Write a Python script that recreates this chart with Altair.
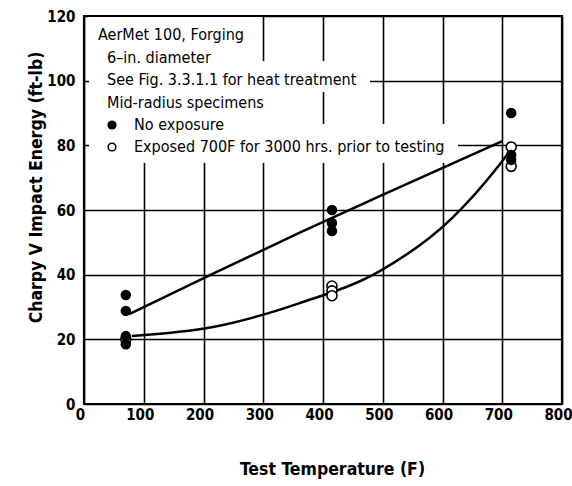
import altair as alt
import pandas as pd

# ---- data ----
temp_none = [70, 70, 70, 70, 415, 415, 415, 715, 715, 715]
energy_none = [33.7, 28.8, 21.0, 18.5, 60.0, 56.0, 53.5, 90.0, 77.0, 75.5]
temp_exp = [70, 415, 415, 415, 715, 715]
energy_exp = [20.0, 36.5, 35.0, 33.5, 79.5, 73.5]

fit_none_t = [76, 216, 361, 495, 700]
fit_none_e = [27.8, 40.3, 53.0, 64.3, 81.3]
fit_exp_t = [80, 216, 361, 495, 616, 691, 713]
fit_exp_e = [21.0, 23.8, 31.2, 41.1, 57.5, 73.0, 78.3]

x_ticks = [0, 100, 200, 300, 400, 500, 600, 700, 800]
y_ticks = [0, 20, 40, 60, 80, 100, 120]

note_lines = ["AerMet 100, Forging", "6–in. diameter",
              "See Fig. 3.3.1.1 for heat treatment", "Mid-radius specimens"]
legend_labels = ["No exposure", "Exposed 700F for 3000 hrs. prior to testing"]

# ---- layout / style ----
LEFT, TOP, W, H = 84, 16, 478, 388
FONT = "DejaVu Sans Condensed, sans-serif"

xs = alt.Scale(domain=[0, 800], nice=False)
ys = alt.Scale(domain=[0, 120], nice=False)

xaxis = alt.Axis(values=x_ticks, title="Test Temperature (F)", grid=True,
                 gridColor="black", gridWidth=1.6, gridOpacity=1, domain=False,
                 ticks=False, labelFont=FONT, labelFontSize=15, labelFontWeight="bold",
                 labelColor="black", labelPadding=3, labelFlush=False, labelOverlap=False,
                 labelOffset=-4,
                 titleFont=FONT, titleFontSize=17.5, titleFontWeight="bold", titleColor="black",
                 titleX=248, titleY=65, titleBaseline="middle", titleAlign="center")
yaxis = alt.Axis(values=y_ticks, title="Charpy V Impact Energy (ft-lb)", grid=True,
                 gridColor="black", gridWidth=1.6, gridOpacity=1, domain=False,
                 ticks=False, labelFont=FONT, labelFontSize=15, labelFontWeight="bold",
                 labelColor="black", labelPadding=9, labelFlush=False, labelOverlap=False,
                 titleFont=FONT, titleFontSize=17.5, titleFontWeight="bold", titleColor="black",
                 titleX=36 - LEFT, titleY=187 - TOP, titleBaseline="middle", titleAlign="center",
                 titleAngle=270)

one = pd.DataFrame({"a": [0]})

# white boxes behind the annotation block (interrupt the grid)
boxes = [(89, 262, 17, 163), (262, 370, 61, 92), (262, 282, 92, 163), (262, 458, 124, 163)]
box_layers = [
    alt.Chart(one).mark_rect(fill="white").encode(
        x=alt.value(x0 - LEFT), x2=alt.value(x1 - LEFT),
        y=alt.value(y0 - TOP), y2=alt.value(y1 - TOP))
    for (x0, x1, y0, y1) in boxes
]

df_none = pd.DataFrame({"t": temp_none, "e": energy_none})
df_exp = pd.DataFrame({"t": temp_exp, "e": energy_exp})
fit_none = pd.DataFrame({"t": fit_none_t, "e": fit_none_e})
fit_exp = pd.DataFrame({"t": fit_exp_t, "e": fit_exp_e})

axes_layer = alt.Chart(df_none).mark_point(opacity=0).encode(
    x=alt.X("t:Q", scale=xs, axis=xaxis),
    y=alt.Y("e:Q", scale=ys, axis=yaxis),
)

line_none = alt.Chart(fit_none).mark_line(color="black", strokeWidth=2.5, interpolate="monotone").encode(
    x=alt.X("t:Q", scale=xs), y=alt.Y("e:Q", scale=ys))
line_exp = alt.Chart(fit_exp).mark_line(color="black", strokeWidth=2.5, interpolate="monotone").encode(
    x=alt.X("t:Q", scale=xs), y=alt.Y("e:Q", scale=ys))

pts_exp = alt.Chart(df_exp).mark_point(shape="circle", size=100, fill="white", filled=True,
                                       stroke="black", strokeWidth=1.6, opacity=1).encode(
    x=alt.X("t:Q", scale=xs), y=alt.Y("e:Q", scale=ys))
pts_none = alt.Chart(df_none).mark_point(shape="circle", size=110, filled=True,
                                         color="black", opacity=1).encode(
    x=alt.X("t:Q", scale=xs), y=alt.Y("e:Q", scale=ys))

# annotation text
note_pos = [(98, 35), (107, 58), (107, 80), (107, 103)]
text_layers = []
for txt, (px, py) in zip(note_lines, note_pos):
    text_layers.append(
        alt.Chart(pd.DataFrame({"s": [txt]})).mark_text(
            align="left", baseline="middle", font=FONT, fontSize=16, color="black").encode(
            x=alt.value(px - LEFT), y=alt.value(py - TOP), text="s:N"))

leg_pos = [(134, 125), (134, 147)]
for txt, (px, py) in zip(legend_labels, leg_pos):
    text_layers.append(
        alt.Chart(pd.DataFrame({"s": [txt]})).mark_text(
            align="left", baseline="middle", font=FONT, fontSize=16, color="black").encode(
            x=alt.value(px - LEFT), y=alt.value(py - TOP), text="s:N"))

leg_filled = alt.Chart(one).mark_point(shape="circle", size=85, filled=True, color="black", opacity=1).encode(
    x=alt.value(112 - LEFT), y=alt.value(125 - TOP))
leg_open = alt.Chart(one).mark_point(shape="circle", size=60, fill="white", filled=True,
                                     stroke="black", strokeWidth=1.5, opacity=1).encode(
    x=alt.value(112 - LEFT), y=alt.value(147 - TOP))

chart = alt.layer(
    axes_layer, *box_layers, line_none, line_exp, pts_exp, pts_none,
    *text_layers, leg_filled, leg_open
).properties(
    width=W, height=H,
    padding={"left": LEFT, "top": TOP, "right": 572 - LEFT - W, "bottom": 486 - TOP - H},
    autosize=alt.AutoSizeParams(type="none"),
    background="white",
).configure_view(stroke="black", strokeWidth=2.2)

chart.save("out.html", embed_options={"renderer": "svg", "actions": False})
